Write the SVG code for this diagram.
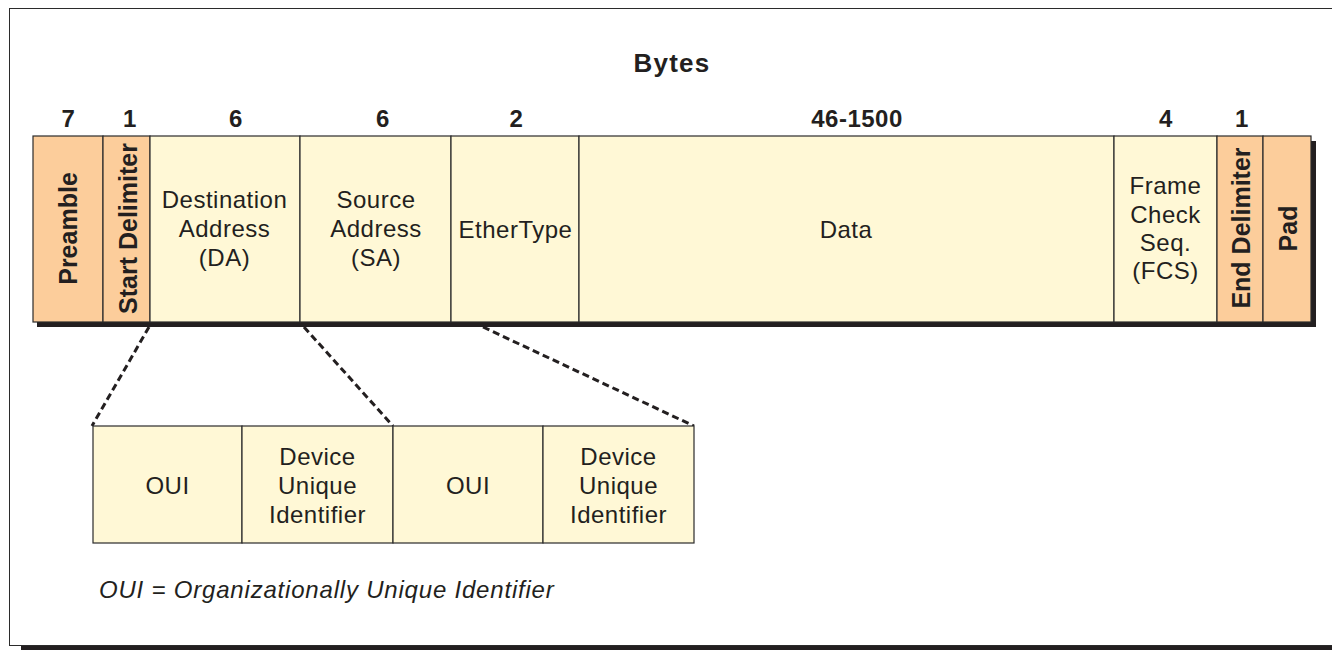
<svg xmlns="http://www.w3.org/2000/svg" width="1332" height="650" viewBox="0 0 1332 650">
  <style>
    .frame { fill: #ffffff; stroke: #2b2b2b; stroke-width: 1; }
    .shadow { fill: #231f20; }
    .orange { fill: #fccd9b; stroke: #2b2b2b; stroke-width: 1.2; }
    .yellow { fill: #fff8d6; stroke: #2b2b2b; stroke-width: 1.2; }
    .lbl { font-family: "Liberation Sans", Arial, sans-serif; font-size: 24px; fill: #231f20; text-anchor: middle; letter-spacing: 0.5px; }
    .num { font-family: "Liberation Sans", Arial, sans-serif; font-size: 24px; font-weight: bold; fill: #231f20; text-anchor: middle; letter-spacing: 0.5px; }
    .title { font-family: "Liberation Sans", Arial, sans-serif; font-size: 26px; font-weight: bold; fill: #231f20; text-anchor: middle; letter-spacing: 1.2px; }
    .vert { font-family: "Liberation Sans", Arial, sans-serif; font-size: 25px; font-weight: bold; fill: #231f20; text-anchor: middle; }
    .note { font-family: "Liberation Sans", Arial, sans-serif; font-size: 24px; font-style: italic; fill: #231f20; letter-spacing: 0.8px; }
    .dash { fill: none; stroke: #231f20; stroke-width: 3; stroke-dasharray: 7 4; }
  </style>

  <!-- page frame with drop shadow -->
  <rect class="shadow" x="21" y="645" width="1311" height="5"/>
  <rect class="frame" x="9.5" y="8.5" width="1330" height="637"/>

  <!-- headings -->
  <text class="title" x="672" y="72">Bytes</text>
  <g id="byte-counts">
    <text class="num" x="68.5" y="127">7</text>
    <text class="num" x="130" y="127">1</text>
    <text class="num" x="236" y="127">6</text>
    <text class="num" x="383" y="127">6</text>
    <text class="num" x="516.5" y="127">2</text>
    <text class="num" x="857" y="127">46-1500</text>
    <text class="num" x="1166" y="127">4</text>
    <text class="num" x="1242" y="127">1</text>
  </g>

  <!-- frame shadow -->
  <rect class="shadow" x="37" y="322" width="1279" height="5"/>
  <rect class="shadow" x="1311" y="141" width="5" height="186"/>

  <g id="preamble">
    <rect class="orange" x="33" y="136" width="70" height="186"/>
    <text class="vert" transform="translate(77,228.5) rotate(-90)">Preamble</text>
  </g>
  <g id="start-delimiter">
    <rect class="orange" x="103" y="136" width="47" height="186"/>
    <text class="vert" transform="translate(136.5,228.5) rotate(-90)">Start Delimiter</text>
  </g>
  <g id="destination-address">
    <rect class="yellow" x="150" y="136" width="150" height="186"/>
    <text class="lbl" x="224.5" y="208">Destination<tspan x="224.5" y="237">Address</tspan><tspan x="224.5" y="266">(DA)</tspan></text>
  </g>
  <g id="source-address">
    <rect class="yellow" x="300" y="136" width="151" height="186"/>
    <text class="lbl" x="376" y="208">Source<tspan x="376" y="237">Address</tspan><tspan x="376" y="266">(SA)</tspan></text>
  </g>
  <g id="ethertype">
    <rect class="yellow" x="451" y="136" width="128" height="186"/>
    <text class="lbl" x="515.5" y="238">EtherType</text>
  </g>
  <g id="data">
    <rect class="yellow" x="579" y="136" width="535" height="186"/>
    <text class="lbl" x="846" y="238">Data</text>
  </g>
  <g id="fcs">
    <rect class="yellow" x="1114" y="136" width="103" height="186"/>
    <text class="lbl" x="1165.5" y="194">Frame<tspan x="1165.5" y="223">Check</tspan><tspan x="1165.5" y="251">Seq.</tspan><tspan x="1165.5" y="279">(FCS)</tspan></text>
  </g>
  <g id="end-delimiter">
    <rect class="orange" x="1217" y="136" width="46" height="186"/>
    <text class="vert" transform="translate(1250,228) rotate(-90)">End Delimiter</text>
  </g>
  <g id="pad">
    <rect class="orange" x="1263" y="136" width="48" height="186"/>
    <text class="vert" transform="translate(1296.5,228.5) rotate(-90)">Pad</text>
  </g>

  <!-- expansion connectors -->
  <g id="connectors">
    <line class="dash" x1="149" y1="327" x2="92" y2="426"/>
    <line class="dash" x1="304" y1="327" x2="393" y2="426"/>
    <line class="dash" x1="483" y1="327" x2="694" y2="426"/>
  </g>

  <g id="da-oui">
    <rect class="yellow" x="93" y="426" width="149" height="117"/>
    <text class="lbl" x="167.5" y="494">OUI</text>
  </g>
  <g id="da-device-id">
    <rect class="yellow" x="242" y="426" width="151" height="117"/>
    <text class="lbl" x="317.5" y="465">Device<tspan x="317.5" y="494">Unique</tspan><tspan x="317.5" y="523">Identifier</tspan></text>
  </g>
  <g id="sa-oui">
    <rect class="yellow" x="393" y="426" width="150" height="117"/>
    <text class="lbl" x="468" y="494">OUI</text>
  </g>
  <g id="sa-device-id">
    <rect class="yellow" x="543" y="426" width="151" height="117"/>
    <text class="lbl" x="618.5" y="465">Device<tspan x="618.5" y="494">Unique</tspan><tspan x="618.5" y="523">Identifier</tspan></text>
  </g>

  <text class="note" x="99" y="598">OUI = Organizationally Unique Identifier</text>
</svg>
